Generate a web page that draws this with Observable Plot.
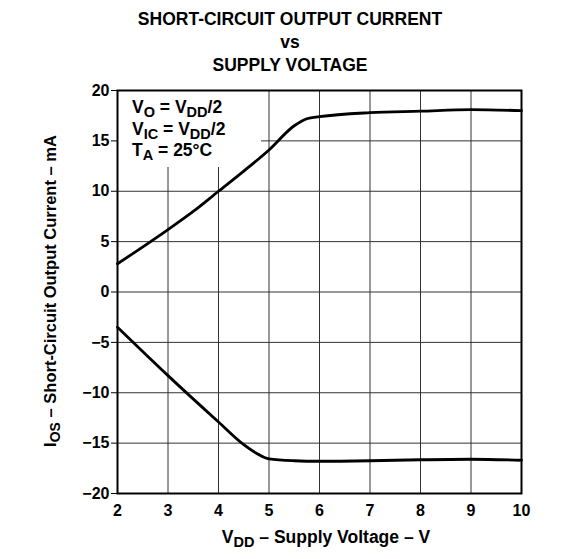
<!DOCTYPE html>
<html>
<head>
<meta charset="utf-8">
<script src="https://cdn.jsdelivr.net/npm/d3@7"></script>
<script src="https://cdn.jsdelivr.net/npm/@observablehq/plot@0.6"></script>
<style>
  html, body { margin: 0; padding: 0; background: #fff; }
  #wrap { position: relative; width: 580px; height: 559px; font-family: "Liberation Sans", Arial, sans-serif; font-weight: bold; color: #000; }
  #title { height: 80px; box-sizing: border-box; padding-top: 8px; text-align: center; font-size: 17.5px; line-height: 23px; }
  #note { position: absolute; left: 118px; top: 91px; width: 143px; height: 76px; box-sizing: border-box; padding: 6px 0 0 14px; font-size: 17.5px; line-height: 21.5px; white-space: nowrap; }
  #note sub { font-size: 14.5px; vertical-align: -3.5px; line-height: 0; }
  svg { display: block; }
</style>
</head>
<body>
<div id="wrap">
  <div id="title">SHORT-CIRCUIT OUTPUT CURRENT<br>vs<br>SUPPLY VOLTAGE</div>
  <div id="chart"></div>
  <div id="note">V<sub>O</sub> = V<sub>DD</sub>/2<br>V<sub>IC</sub> = V<sub>DD</sub>/2<br>T<sub>A</sub> = 25°C</div>
</div>
<script>
// Supply voltage (V) and short-circuit output current (mA)
const sourceVdd = [2, 3, 3.5, 4, 4.5, 5, 5.5, 5.75, 6, 7, 8, 9, 10];
const sourceIos = [2.8, 6.2, 8.0, 10.0, 12.0, 14.1, 16.5, 17.2, 17.4, 17.8, 17.95, 18.1, 18.0];
const sinkVdd = [2, 3, 4, 4.5, 4.75, 5, 5.5, 6, 7, 8, 9, 10];
const sinkIos = [-3.5, -8.3, -12.9, -15.15, -16.0, -16.57, -16.75, -16.8, -16.75, -16.65, -16.6, -16.7];
const xTicks = [2, 3, 4, 5, 6, 7, 8, 9, 10];
const yTicks = [-20, -15, -10, -5, 0, 5, 10, 15, 20];

const source = sourceVdd.map((v, i) => ({vdd: v, ios: sourceIos[i]}));
const sink = sinkVdd.map((v, i) => ({vdd: v, ios: sinkIos[i]}));

const fmt = d => d < 0 ? "\u2212" + (-d) : String(d);

// white panel behind the conditions note (drawn over the grid, under the curves)
const notePanel = (index, scales, values, dims) =>
  d3.create("svg:rect")
    .attr("x", dims.marginLeft + 1)
    .attr("y", dims.marginTop + 1)
    .attr("width", 143)
    .attr("height", 76)
    .attr("fill", "#fff")
    .node();

const chart = Plot.plot({
  width: 580,
  height: 479,
  marginLeft: 117,
  marginRight: 59,
  marginTop: 10,
  marginBottom: 66,
  style: {fontFamily: "'Liberation Sans', Arial, sans-serif", fontWeight: "bold", fontSize: "16px", color: "#000", background: "#fff"},
  x: {domain: [2, 10]},
  y: {domain: [-20, 20]},
  marks: [
    Plot.gridX(xTicks, {stroke: "#333", strokeOpacity: 1, strokeWidth: 1}),
    Plot.gridY(yTicks, {stroke: "#333", strokeOpacity: 1, strokeWidth: 1}),
    notePanel,
    Plot.axisX(xTicks, {tickSize: 0, tickPadding: 11, label: null, tickFormat: fmt, fontSize: 16}),
    Plot.axisY(yTicks, {tickSize: 6, tickPadding: 2, label: null, tickFormat: fmt, fontSize: 16, stroke: "#000"}),
    Plot.line(source, {x: "vdd", y: "ios", stroke: "#000", strokeWidth: 2.8, curve: "monotone-x"}),
    Plot.line(sink, {x: "vdd", y: "ios", stroke: "#000", strokeWidth: 2.8, curve: "monotone-x"}),
    Plot.frame({stroke: "#000", strokeWidth: 2})
  ]
});

const svg = d3.select(chart);
// y-axis label
const yl = svg.append("text")
  .attr("transform", "translate(56,211) rotate(-90)")
  .attr("text-anchor", "middle")
  .attr("font-size", 16.5)
  .attr("font-weight", "bold")
  .attr("fill", "#000");
yl.append("tspan").text("I");
yl.append("tspan").attr("dy", 4).attr("font-size", 14).text("OS");
yl.append("tspan").attr("dy", -4).text(" \u2013 Short-Circuit Output Current \u2013 mA");

// x-axis label
const xl = svg.append("text")
  .attr("x", 326).attr("y", 463)
  .attr("text-anchor", "middle")
  .attr("font-size", 17.5)
  .attr("font-weight", "bold")
  .attr("fill", "#000");
xl.append("tspan").text("V");
xl.append("tspan").attr("dy", 4).attr("font-size", 14.5).text("DD");
xl.append("tspan").attr("dy", -4).text(" \u2013 Supply Voltage \u2013 V");

document.getElementById("chart").appendChild(chart);
</script>
</body>
</html>
